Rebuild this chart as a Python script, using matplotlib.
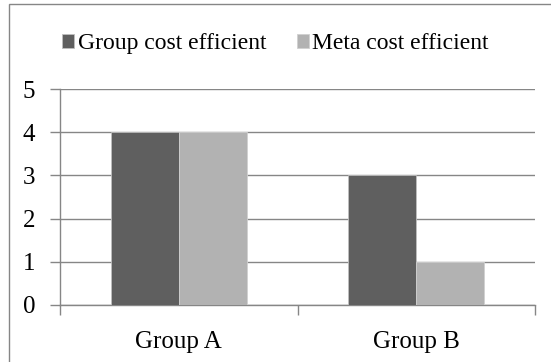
import numpy as np
import matplotlib
matplotlib.use('Agg')
import matplotlib.pyplot as plt
from matplotlib.patches import Rectangle

# values per group
groups = ['Group A', 'Group B']
group_cost = [4, 3]
meta_cost = [4, 1]
series_names = ['Group cost efficient', 'Meta cost efficient']
yticks = [0, 1, 2, 3, 4, 5]

plt.rcParams['font.family'] = ['Liberation Serif', 'DejaVu Serif']
fs = 18
fs_leg = 17

fig = plt.figure(figsize=(5.51, 3.62), dpi=100)
ax = fig.add_axes([0.1089, 0.1575, 0.8621, 0.5966])

# outer chart frame
fig.patches.append(Rectangle((9/551, -0.1), 1.2, 1 - 4/362 + 0.1,
                             transform=fig.transFigure, fill=False,
                             edgecolor='#868686', linewidth=1.0))

x = np.arange(len(groups))
w = 1 / 3.5
ax.bar(x - w/2, group_cost, w, color='#5f5f5f', edgecolor='#bfbfbf',
       linewidth=0.6, zorder=3, label=series_names[0])
ax.bar(x + w/2, meta_cost, w, color='#b2b2b2', edgecolor='#d0d0d0',
       linewidth=0.6, zorder=3, label=series_names[1])

ax.set_xlim(-0.5, 1.5)
ax.set_ylim(0, 5)
ax.set_yticks(yticks)
ax.yaxis.grid(True, color='#868686', linewidth=1.0, zorder=0)
ax.set_axisbelow(True)

ax.set_xticks(x)
ax.set_xticklabels(groups, fontsize=fs)
ax.set_xticks([-0.5, 0.5, 1.5], minor=True)
ax.tick_params(axis='x', which='major', length=0, pad=19)
ax.tick_params(axis='x', which='minor', length=7, color='#868686', width=1.0, direction='out')
ax.tick_params(axis='y', length=7, color='#868686', width=1.0, pad=11, labelsize=fs)

for s in ['top', 'right']:
    ax.spines[s].set_visible(False)
for s in ['left', 'bottom']:
    ax.spines[s].set_color('#868686')
    ax.spines[s].set_linewidth(1.0)

h, l = ax.get_legend_handles_labels()
fig.legend(h, l, loc='center', bbox_to_anchor=(0.5, 0.879), ncol=2,
           frameon=False, fontsize=fs_leg, handlelength=0.5, handleheight=0.5,
           handletextpad=0.15, columnspacing=1.3)

fig.savefig('out.png', dpi=100)
